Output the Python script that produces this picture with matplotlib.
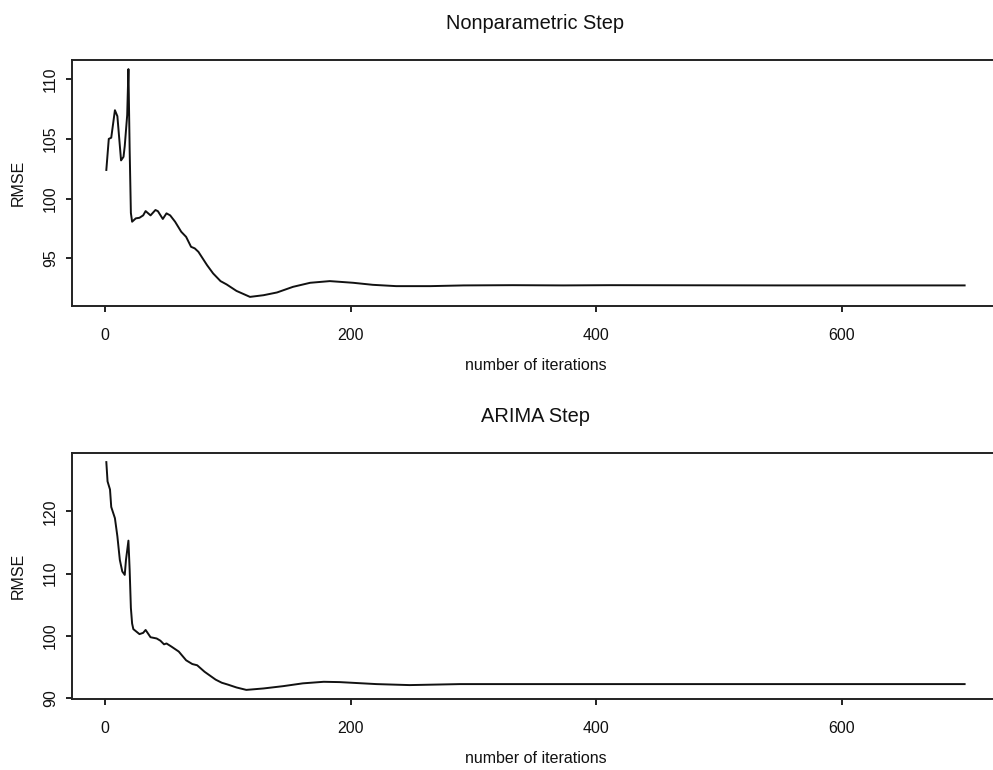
import matplotlib
matplotlib.use("Agg")
import matplotlib.pyplot as plt

# Nonparametric step: RMSE by iteration
np_iter = [1, 3, 5, 8, 10, 13, 15, 16, 18, 19, 20, 21, 22, 25, 28, 31, 33, 37, 41, 43,
           47, 50, 53, 57, 62, 66, 70, 73, 76, 83, 88, 94, 99, 107, 118, 129, 140, 153, 167, 183,
           202, 218, 237, 265, 292, 332, 373, 411, 550, 700]
np_rmse = [102.4, 105.0, 105.1, 107.4, 106.9, 103.2, 103.5, 104.4, 107.0, 110.84,
           104.1, 98.8, 98.07, 98.35, 98.4, 98.6, 98.96, 98.6, 99.05, 98.95,
           98.3, 98.77, 98.6, 98.07, 97.23, 96.8, 95.97, 95.84, 95.55, 94.44,
           93.74, 93.1, 92.82, 92.28, 91.78, 91.92, 92.15, 92.62, 92.96, 93.1,
           92.96, 92.79, 92.68, 92.68, 92.74, 92.76, 92.74, 92.76, 92.74, 92.74]

# ARIMA step: RMSE by iteration
ar_iter = [1, 2, 4, 5, 8, 10, 12, 14, 16, 17, 19, 20, 21, 22, 23, 28, 31, 33, 37, 42,
           45, 48, 50, 54, 60, 66, 71, 75, 81, 90, 95, 100, 107, 115, 129, 145, 161, 178, 191, 221,
           248, 289, 400, 550, 700]
ar_rmse = [127.9, 124.8, 123.5, 120.7, 118.9, 116.0, 112.2, 110.35, 109.8, 112.2,
           115.3, 110.6, 104.5, 102.0, 101.1, 100.3, 100.5, 100.97, 99.8, 99.6,
           99.25, 98.66, 98.8, 98.3, 97.5, 96.1, 95.5, 95.3, 94.26, 93.0,
           92.5, 92.2, 91.74, 91.35, 91.58, 91.95, 92.4, 92.65, 92.6, 92.28,
           92.12, 92.28, 92.28, 92.28, 92.28]

titles = ["Nonparametric Step", "ARIMA Step"]
x_ticks = [0, 200, 400, 600]
y_ticks = [[95, 100, 105, 110], [90, 100, 110, 120]]

plt.rcParams["font.family"] = ["Liberation Sans", "DejaVu Sans"]

fig = plt.figure(figsize=(9.93, 7.7), dpi=100)
# axes run past the right edge, like the cropped original
ax_top = fig.add_axes([0.0725, 0.6026, 0.9335, 0.3195])
ax_bot = fig.add_axes([0.0725, 0.0922, 0.9335, 0.3195])

series = [(np_iter, np_rmse), (ar_iter, ar_rmse)]
for i, ax in enumerate([ax_top, ax_bot]):
    xs, ys = series[i]
    ax.plot(xs, ys, color="#111111", linewidth=1.4)
    ax.margins(x=0.04, y=0.04)
    ax.set_xticks(x_ticks)
    ax.set_yticks(y_ticks[i])
    ax.set_yticklabels([str(v) for v in y_ticks[i]], rotation=90, va="center")
    ax.tick_params(axis="both", direction="out", length=4, width=1.3,
                   labelsize=11.5, colors="#111111")
    ax.tick_params(axis="x", pad=12)
    ax.tick_params(axis="y", pad=6)
    for s in ax.spines.values():
        s.set_linewidth(1.4)
        s.set_color("#222222")
    ax.set_title(titles[i], fontsize=14.4, pad=22, color="#111111")
    ax.set_xlabel("number of iterations", fontsize=11.5, color="#111111")
    ax.xaxis.label.set_va("center")
    ax.xaxis.set_label_coords((535.5 - 72) / 927, -0.24)
    ax.set_ylabel("RMSE", fontsize=11.5, color="#111111")
    ax.yaxis.label.set_va("center")
    ax.yaxis.set_label_coords(-0.058, 0.5)

fig.savefig("out.png", dpi=100)
